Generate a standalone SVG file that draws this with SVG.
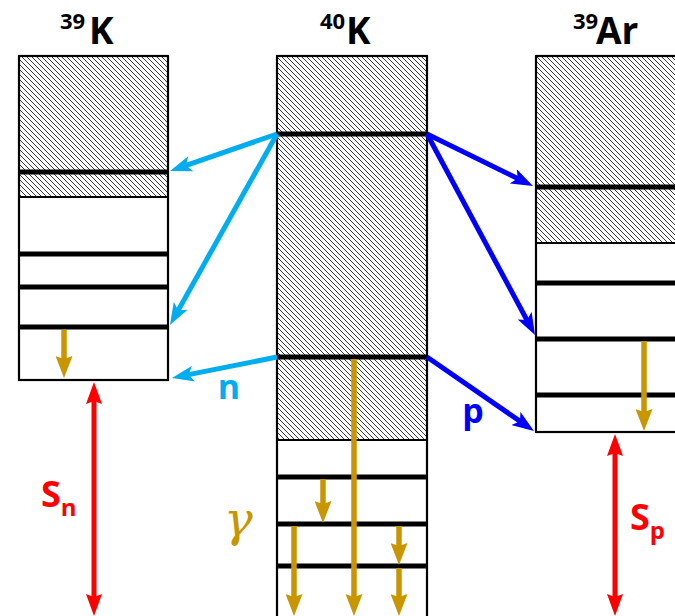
<svg xmlns="http://www.w3.org/2000/svg" width="675" height="616" viewBox="0 0 675 616">
  <style>
    .box { fill: none; stroke: #000; stroke-width: 2.2; }
    .hatch { fill: url(#hatch); stroke: none; }
    .sep { stroke: #000; stroke-width: 2.2; }
    .level { stroke: #000; stroke-width: 5; }
    .title { font-family: "Open Sans", "Liberation Sans", sans-serif; font-weight: bold; fill: #000; }
    .lbl { font-family: "Open Sans", "Liberation Sans", sans-serif; font-weight: bold; }
    .n-arr { stroke: #00AEEF; stroke-width: 5; fill: none; marker-end: url(#headN); }
    .p-arr { stroke: #0000FF; stroke-width: 5; fill: none; marker-end: url(#headP); }
    .g-arr { stroke: #C99600; stroke-width: 5.5; fill: none; marker-end: url(#headG); }
    .s-arr { stroke: #FF0000; stroke-width: 5; fill: none; marker-start: url(#headS); marker-end: url(#headS); }
  </style>
  <defs>
    <!-- diagonal hatching for the continuum regions -->
    <pattern id="hatch" width="5" height="5" patternUnits="userSpaceOnUse">
      <path d="M-1,-1 L6,6 M-1,4 L1,6 M4,-1 L6,1" stroke="#3a3a3a" stroke-width="1" shape-rendering="crispEdges"/>
    </pattern>
    <marker id="headN" viewBox="0 0 22 16" markerWidth="22" markerHeight="16" refX="14" refY="8" orient="auto" markerUnits="userSpaceOnUse">
      <path d="M0,0 L22,8 L0,16 L5,8 z" fill="#00AEEF"/>
    </marker>
    <marker id="headP" viewBox="0 0 22 16" markerWidth="22" markerHeight="16" refX="14" refY="8" orient="auto" markerUnits="userSpaceOnUse">
      <path d="M0,0 L22,8 L0,16 L5,8 z" fill="#0000FF"/>
    </marker>
    <marker id="headG" viewBox="0 0 22 17" markerWidth="22" markerHeight="17" refX="14" refY="8.5" orient="auto" markerUnits="userSpaceOnUse">
      <path d="M0,0 L22,8.5 L0,17 L3,8.5 z" fill="#C99600"/>
    </marker>
    <marker id="headS" viewBox="0 0 22 16" markerWidth="22" markerHeight="16" refX="14" refY="8" orient="auto-start-reverse" markerUnits="userSpaceOnUse">
      <path d="M0,0 L22,8 L0,16 L3,8 z" fill="#FF0000"/>
    </marker>
  </defs>

  <rect width="675" height="616" fill="#fff"/>

  <!-- 39K level scheme -->
  <g id="k39">
    <rect class="hatch" x="19" y="56" width="149" height="141"/>
    <line class="sep" x1="19" y1="197" x2="168" y2="197"/>
    <line class="level" x1="19" y1="172" x2="168" y2="172"/>
    <line class="level" x1="19" y1="254" x2="168" y2="254"/>
    <line class="level" x1="19" y1="287" x2="168" y2="287"/>
    <line class="level" x1="19" y1="327" x2="168" y2="327"/>
    <rect class="box" x="19" y="56" width="149" height="324"/>
    <text class="title" x="60" y="29" font-size="22">39</text>
    <text class="title" x="89" y="44" font-size="37">K</text>
  </g>

  <!-- 40K level scheme -->
  <g id="k40">
    <rect class="hatch" x="277" y="56" width="150" height="384"/>
    <line class="sep" x1="277" y1="440" x2="427" y2="440"/>
    <line class="level" x1="277" y1="134" x2="427" y2="134"/>
    <line class="level" x1="277" y1="357" x2="427" y2="357"/>
    <line class="level" x1="277" y1="477" x2="427" y2="477"/>
    <line class="level" x1="277" y1="524" x2="427" y2="524"/>
    <line class="level" x1="277" y1="566" x2="427" y2="566"/>
    <rect class="box" x="277" y="56" width="150" height="580"/>
    <text class="title" x="320" y="29" font-size="22">40</text>
    <text class="title" x="346" y="44" font-size="37">K</text>
  </g>

  <!-- 39Ar level scheme -->
  <g id="ar39">
    <rect class="hatch" x="536" y="56" width="150" height="187"/>
    <line class="sep" x1="536" y1="243" x2="686" y2="243"/>
    <line class="level" x1="536" y1="187" x2="686" y2="187"/>
    <line class="level" x1="536" y1="283" x2="686" y2="283"/>
    <line class="level" x1="536" y1="339" x2="686" y2="339"/>
    <line class="level" x1="536" y1="395" x2="686" y2="395"/>
    <rect class="box" x="536" y="56" width="150" height="376"/>
    <text class="title" x="573" y="29" font-size="22">39</text>
    <text class="title" x="596" y="44" font-size="37">Ar</text>
  </g>

  <!-- transitions -->
  <g id="connectors">
    <!-- neutron emission -->
    <line class="n-arr" x1="277" y1="134" x2="177.6" y2="168.4"/>
    <line class="n-arr" x1="277" y1="134" x2="173.9" y2="318.0"/>
    <line class="n-arr" x1="277" y1="357" x2="179.8" y2="376.4"/>
    <!-- proton emission -->
    <line class="p-arr" x1="427" y1="134" x2="525.8" y2="182.5"/>
    <line class="p-arr" x1="427" y1="134" x2="531.2" y2="328.0"/>
    <line class="p-arr" x1="427" y1="357" x2="527.4" y2="426.4"/>
    <!-- gamma decays -->
    <line class="g-arr" x1="64" y1="330" x2="64" y2="370"/>
    <line class="g-arr" x1="354" y1="359" x2="354" y2="608"/>
    <line class="g-arr" x1="323" y1="479" x2="323" y2="515"/>
    <line class="g-arr" x1="294" y1="526" x2="294" y2="608"/>
    <line class="g-arr" x1="399" y1="526" x2="399" y2="557"/>
    <line class="g-arr" x1="399" y1="568" x2="399" y2="608"/>
    <line class="g-arr" x1="644" y1="341" x2="644" y2="423"/>
    <!-- separation energies -->
    <line class="s-arr" x1="94" y1="390" x2="94" y2="608"/>
    <line class="s-arr" x1="615" y1="442" x2="615" y2="608"/>
  </g>

  <!-- labels -->
  <text class="lbl" x="229" y="399" font-size="34" fill="#00AEEF" text-anchor="middle">n</text>
  <text class="lbl" x="473" y="423" font-size="34" fill="#0000FF" text-anchor="middle">p</text>
  <text x="224" y="536" font-size="48" font-style="italic" fill="#C99600" font-family="'DejaVu Serif', serif">γ</text>
  <text class="lbl" x="41" y="507" font-size="36" fill="#FF0000">S<tspan font-size="24" dy="9">n</tspan></text>
  <text class="lbl" x="630" y="530" font-size="36" fill="#FF0000">S<tspan font-size="24" dy="9">p</tspan></text>
</svg>
